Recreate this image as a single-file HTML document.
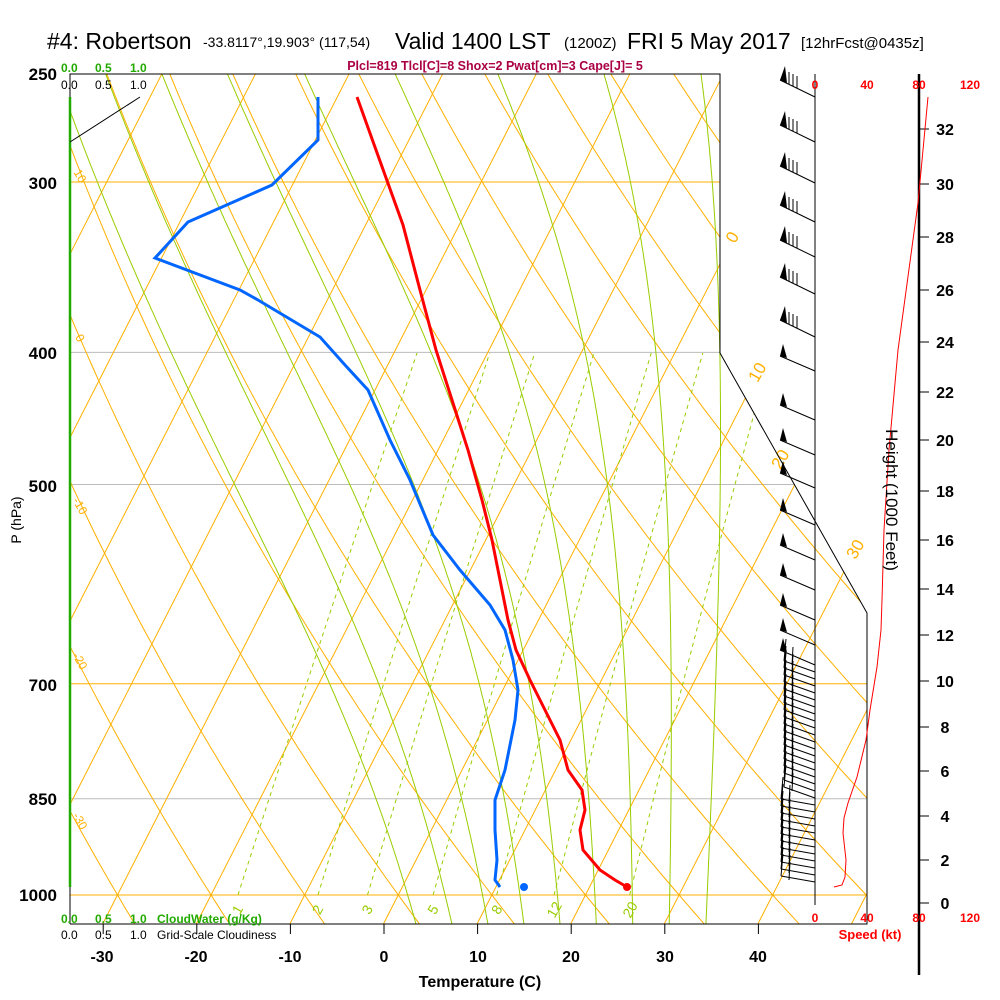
<!DOCTYPE html>
<html><head><meta charset="utf-8"><style>
html,body{margin:0;padding:0;background:#fff;}
svg{display:block;font-family:"Liberation Sans",sans-serif;}
</style></head><body>
<svg id="s" width="1000" height="1000" viewBox="0 0 1000 1000" xmlns="http://www.w3.org/2000/svg">
<defs><clipPath id="cp"><polygon points="70,74 720,74 720,353 867,613 867,924 70,924"/></clipPath>
<clipPath id="cpm"><rect x="70" y="353" width="800" height="542"/></clipPath></defs>
<g id="bg" clip-path="url(#cp)"></g>
<g id="fg"></g>
<!-- title -->
<text x="47" y="49" font-size="23">#4: Robertson</text>
<text x="203" y="47" font-size="14">-33.8117°,19.903° (117,54)</text>
<text x="395" y="49" font-size="23">Valid 1400 LST</text>
<text x="564" y="48" font-size="15">(1200Z)</text>
<text x="627" y="49" font-size="23">FRI 5 May 2017</text>
<text x="801" y="48" font-size="15">[12hrFcst@0435z]</text>
<text x="495" y="70" font-size="12.5" font-weight="bold" fill="#aa0044" text-anchor="middle">Plcl=819 Tlcl[C]=8 Shox=2 Pwat[cm]=3 Cape[J]= 5</text>
<g font-size="12" font-weight="bold" fill="#22aa00"><text x="61" y="72">0.0</text><text x="95" y="72">0.5</text><text x="130" y="72">1.0</text>
<text x="61" y="923">0.0</text><text x="95" y="923">0.5</text><text x="130" y="923">1.0</text><text x="157" y="923">CloudWater (g/Kg)</text></g>
<g font-size="12" fill="#000"><text x="61" y="89">0.0</text><text x="95" y="89">0.5</text><text x="130" y="89">1.0</text>
<text x="61" y="939">0.0</text><text x="95" y="939">0.5</text><text x="130" y="939">1.0</text><text x="157" y="939">Grid-Scale Cloudiness</text></g>
<g font-size="17" font-weight="bold" text-anchor="end"><text x="57" y="80">250</text><text x="57" y="189">300</text><text x="57" y="359">400</text><text x="57" y="492">500</text><text x="57" y="691">700</text><text x="57" y="805">850</text><text x="57" y="901">1000</text></g>
<text transform="translate(21,520) rotate(-90)" font-size="14" text-anchor="middle">P (hPa)</text>
<text x="480" y="987" font-size="16" font-weight="bold" text-anchor="middle">Temperature (C)</text>
<g font-size="16" font-weight="bold" text-anchor="middle"><text x="102" y="962">-30</text><text x="196" y="962">-20</text><text x="290" y="962">-10</text><text x="384" y="962">0</text><text x="478" y="962">10</text><text x="571" y="962">20</text><text x="665" y="962">30</text><text x="758" y="962">40</text></g>
<g font-size="12" font-weight="bold" fill="#ff0000" text-anchor="middle"><text x="815" y="89">0</text><text x="867" y="89">40</text><text x="919" y="89">80</text><text x="970" y="89">120</text>
<text x="815" y="922">0</text><text x="867" y="922">40</text><text x="919" y="922">80</text><text x="970" y="922">120</text>
<text x="870" y="939" font-size="13">Speed (kt)</text></g>
<text transform="translate(886,500) rotate(90)" font-size="17" text-anchor="middle">Height (1000 Feet)</text>
</svg>
<script>
const NS="http://www.w3.org/2000/svg";
const bg=document.getElementById('bg'),fg=document.getElementById('fg');
function el(p,tag,a,txt){const e=document.createElementNS(NS,tag);for(const k in a)e.setAttribute(k,a[k]);if(txt!=null)e.textContent=txt;p.appendChild(e);return e;}
const Y=p=>895-592.2*Math.log(1000/p);
const X=(T,p)=>384+9.36*T+0.51*(923-Y(p));
const OR="#ffb000",GR="#99cc00";
function line(g,pts,a){el(g,'polyline',Object.assign({points:pts.map(q=>q[0].toFixed(1)+','+q[1].toFixed(1)).join(' '),fill:'none'},a));}
[[300,OR,720],[400,"#bbbbbb",720],[500,"#bbbbbb",867],[700,OR,867],[850,"#bbbbbb",867],[1000,OR,867]].forEach(a=>el(bg,'line',{x1:70,x2:a[2],y1:Y(a[0]),y2:Y(a[0]),stroke:a[1],'stroke-width':1}));
for(let T=-120;T<=60;T+=10){line(bg,[[X(T,1050),Y(1050)],[X(T,240),Y(240)]],{stroke:OR,'stroke-width':1});}
for(let th=-60;th<=200;th+=10){const pts=[];for(let p=1050;p>=240;p-=10){const T=(th+273.15)*Math.pow(p/1000,0.2857)-273.15;pts.push([X(T,p),Y(p)]);}line(bg,pts,{stroke:OR,'stroke-width':1});}
function es(T){return 6.112*Math.exp(17.67*T/(T+243.5));}
function dTdp(T,p){const Tk=T+273.15,e=es(T),rs=0.622*e/(p-e),Lv=2.5e6,Rd=287,cp=1004;return (Rd*Tk+Lv*rs)/(p*(cp+Lv*Lv*rs*0.622/(Rd*Tk*Tk)));}
[1,5,9,13,17,21,25,29,33].forEach(tw=>{let pts=[],T=tw;for(let p=1000;p>=240;p-=2){pts.push([X(T,p),Y(p)]);T-=dTdp(T,p)*2;}
 let T2=tw,lo=[];for(let p=1000;p<=1050;p+=2){lo.push([X(T2,p),Y(p)]);T2+=dTdp(T2,p)*2;}
 line(bg,lo.reverse().concat(pts),{stroke:GR,'stroke-width':1});});
const mg=el(bg,'g',{'clip-path':'url(#cpm)'});
[1,2,3,5,8,12,20].forEach(w=>{const pts=[];for(let p=1000;p>=400;p-=20){const e=w*p/(622+w),l=Math.log(e/6.112),Td=243.5*l/(17.67-l);pts.push([X(Td,p),Y(p)]);}line(mg,pts,{stroke:GR,'stroke-width':1,'stroke-dasharray':'4,4'});
 const e=w*1020/(622+w),l=Math.log(e/6.112),Td=243.5*l/(17.67-l);const lx=X(Td,1020)+4;el(fg,'text',{x:lx,y:914,'font-size':14,fill:GR,'text-anchor':'middle',transform:`rotate(-60 ${lx} 910)`},String(w));});
[[0,732,243],[10,757,378],[20,780,465],[30,855,555]].forEach(a=>el(fg,'text',{x:a[1],y:a[2],'font-size':17,fill:OR,'text-anchor':'middle',transform:`rotate(-60 ${a[1]} ${a[2]-6})`},String(a[0])));
[[10,80,180],[0,80,342],[-10,80,510],[-20,80,665],[-30,80,825]].forEach(a=>el(fg,'text',{x:a[1],y:a[2],'font-size':12,fill:OR,'text-anchor':'middle',transform:`rotate(60 ${a[1]} ${a[2]-4})`},String(a[0])));
line(fg,[[70,924],[70,74],[720,74],[720,353],[867,613],[867,924],[70,924]],{stroke:'#000','stroke-width':1});
el(fg,'line',{x1:70,y1:97,x2:70,y2:887,stroke:'#22aa00','stroke-width':2.5});
el(fg,'line',{x1:70,y1:142,x2:140,y2:97,stroke:'#000','stroke-width':1});
[-30,-20,-10,0,10,20,30,40].forEach(T=>el(fg,'line',{x1:384+9.36*T,x2:384+9.36*T,y1:924,y2:934,stroke:'#000'}));
el(fg,'line',{x1:815,y1:74,x2:815,y2:905,stroke:'#000'});
el(fg,'line',{x1:919,y1:74,x2:919,y2:975,stroke:'#000','stroke-width':2.5});
const hy={32:129,30:184,28:237,26:290,24:342,22:392,20:440,18:491,16:540,14:589,12:635,10:681,8:727,6:771,4:816,2:860,0:903};
for(const h in hy){el(fg,'line',{x1:919,x2:929,y1:hy[h],y2:hy[h],stroke:'#000'});el(fg,'text',{x:945,y:hy[h]+6,'font-size':16,'font-weight':'bold','text-anchor':'middle'},String(h));}
line(fg,[[928,97],[918,203],[898,350],[889,450],[884,530],[882,600],[881,630],[877,667],[870,710],[866,740],[857,777],[848,803],[844,818],[843,833],[846,860],[845,877],[842,885],[834,887]],{stroke:'#ff0000','stroke-width':1});
function barb(y,dx,dy,type){const x0=815,x1=x0+dx,y1=y+dy;el(fg,'line',{x1:x0,y1:y,x2:x1,y2:y1,stroke:'#000'});
 if(type==1){el(fg,'polygon',{points:`${x1},${y1} ${x1+5},${y1-14} ${x1+7},${y1+3}`,fill:'#000'});for(let i=0;i<3;i++){const fx=x1+9+i*4,fy=y1+4+i*2;el(fg,'line',{x1:fx,y1:fy,x2:fx,y2:fy-12,stroke:'#000'});}}
 else if(type==2){el(fg,'polygon',{points:`${x1},${y1} ${x1+3},${y1-12} ${x1+7},${y1+2}`,fill:'#000'});}
 else {el(fg,'line',{x1:x1,y1:y1,x2:x1+2,y2:y1-22,stroke:'#000'});el(fg,'line',{x1:x1+8,y1:y1+4,x2:x1+9,y2:y1-14,stroke:'#000'});}}
[97,142,183,222,257,294,337].forEach(y=>barb(y,-35,-17,1));
[371,420,455,488,525,560,590,620,645,665].forEach(y=>barb(y,-35,-15,2));
for(let y=672;y<=886;y+=7){const dx=y<800?-31:-34;barb(y,dx,y<800?-11:-6,3);}
line(fg,[[357,97],[385,175],[403,225],[420,290],[436,350],[452,400],[468,450],[482,500],[492,540],[500,580],[508,620],[516,650],[530,680],[545,710],[560,740],[568,770],[582,790],[585,810],[580,830],[583,850],[600,870],[615,880],[627,887]],{stroke:'#ff0000','stroke-width':3});
line(fg,[[318,97],[318,140],[272,185],[188,222],[155,258],[240,290],[258,300],[320,337],[345,365],[368,390],[390,440],[410,480],[433,535],[460,570],[490,605],[505,630],[513,660],[518,690],[515,720],[510,745],[505,770],[495,800],[495,830],[497,860],[495,880],[500,887]],{stroke:'#0066ff','stroke-width':3});
el(fg,'circle',{cx:627,cy:887,r:4,fill:'#ff0000'});
el(fg,'circle',{cx:524,cy:887,r:4,fill:'#0066ff'});
</script>
</body></html>
